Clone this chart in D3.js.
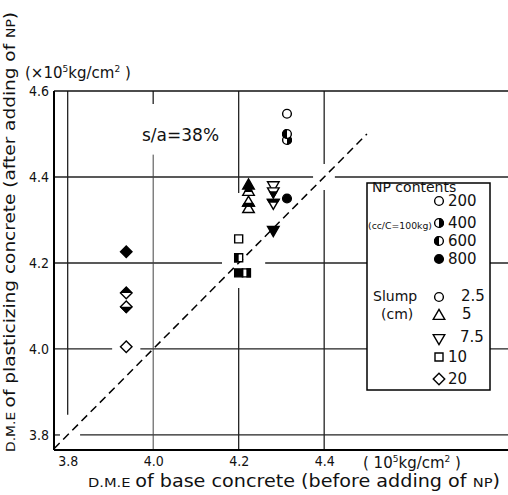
<!DOCTYPE html>
<html>
<head>
<meta charset="utf-8">
<script src="https://cdn.jsdelivr.net/npm/d3@7"></script>
<style>
  body { margin: 0; background: #fff; }
  svg text { font-family: "DejaVu Sans", sans-serif; fill: #111; }
  .tick text { font-family: "DejaVu Sans Condensed", "DejaVu Sans", sans-serif; font-size: 14px; }
</style>
</head>
<body>
<svg id="chart" width="508" height="495"></svg>
<script>
'use strict';

// ---- data ----
var npContents  = [200, 400, 600, 800];
var slumpLabels = ['2.5', '5', '7.5', '10', '20'];
var slumpShapes = ['circle', 'triangleUp', 'triangleDown', 'square', 'diamond'];

// D.M.E of base concrete (x) and of plasticizing concrete (y), one per NP content
var base25  = [4.313, 4.313, 4.313, 4.313], plast25  = [4.547, 4.486, 4.500, 4.350];
var base5   = [4.223, 4.223, 4.223, 4.223], plast5   = [4.325, 4.340, 4.365, 4.380];
var base75  = [4.281, 4.281, 4.281, 4.281], plast75  = [4.381, 4.367, 4.340, 4.277];
var base10  = [4.200, 4.218, 4.200, 4.200], plast10  = [4.256, 4.177, 4.212, 4.177];
var base20  = [3.937, 3.937, 3.937, 3.937], plast20  = [4.005, 4.098, 4.130, 4.226];

var xTicks = [3.8, 4.0, 4.2, 4.4];
var yTicks = [3.8, 4.0, 4.2, 4.4, 4.6];
var equalLine = [3.768, 4.5];   // dashed y = x line

var baseSets  = [base25, base5, base75, base10, base20];
var plastSets = [plast25, plast5, plast75, plast10, plast20];

var points = [];
slumpShapes.forEach(function(shape, s) {
    npContents.forEach(function(np, i) {
        points.push({ shape: shape, np: np, base: baseSets[s][i], plast: plastSets[s][i] });
    });
});

// ---- scales ----
var svg = d3.select('#chart');
var x = d3.scaleLinear().domain([3.768, 4.83]).range([54, 508]);
var y = d3.scaleLinear().domain([3.765, 4.6]).range([450, 91]);

// clip paths for half filled markers
var defs = svg.append('defs');
[['left', -20, -20, 20, 40], ['right', 0, -20, 20, 40],
 ['top', -20, -20, 40, 20], ['bottom', -20, 0, 40, 20]].forEach(function(c) {
    defs.append('clipPath').attr('id', 'half-' + c[0])
        .append('rect').attr('x', c[1]).attr('y', c[2]).attr('width', c[3]).attr('height', c[4]);
});

// ---- grid lines (hand drawn original has gaps) ----
var grid = svg.append('g').attr('stroke', '#222').attr('stroke-width', 1.3);
var hSegs = [
    [4.4, 3.768, 4.374], [4.4, 4.425, 4.83],
    [4.2, 3.768, 4.161], [4.2, 4.262, 4.83],
    [4.0, 3.768, 3.904], [4.0, 3.97, 4.83],
    [3.8, 3.829, 4.83], [3.8, 3.768, 3.782]
];
grid.selectAll('line.h').data(hSegs).enter().append('line')
    .attr('x1', function(d) { return x(d[1]); })
    .attr('x2', function(d) { return x(d[2]); })
    .attr('y1', function(d) { return y(d[0]); })
    .attr('y2', function(d) { return y(d[0]); });

var vSegs = [
    [3.8, 4.6, 3.847],
    [4.2, 4.6, 4.363], [4.2, 4.142, 3.765],
    [4.4, 4.6, 4.43], [4.4, 4.37, 3.765]
];
grid.selectAll('line.v').data(vSegs).enter().append('line')
    .attr('x1', function(d) { return x(d[0]); })
    .attr('x2', function(d) { return x(d[0]); })
    .attr('y1', function(d) { return y(d[1]); })
    .attr('y2', function(d) { return y(d[2]); });

// 4.0 line is fainter and starts lower
svg.append('line').attr('stroke', '#444').attr('stroke-width', 1)
    .attr('x1', x(4.0)).attr('x2', x(4.0)).attr('y1', y(4.452)).attr('y2', y(3.765));
svg.append('line').attr('stroke', '#222').attr('stroke-width', 1.3)
    .attr('x1', x(4.0)).attr('x2', x(4.0)).attr('y1', y(4.6)).attr('y2', y(4.57));

// frame
svg.append('line').attr('stroke', '#111').attr('stroke-width', 1.6)
    .attr('x1', x(3.768)).attr('x2', x(4.83)).attr('y1', y(4.6)).attr('y2', y(4.6));
svg.append('line').attr('stroke', '#000').attr('stroke-width', 2)
    .attr('x1', x(3.768)).attr('x2', x(3.768)).attr('y1', y(4.6)).attr('y2', y(3.765));
svg.append('line').attr('stroke', '#000').attr('stroke-width', 2)
    .attr('x1', x(3.768)).attr('x2', x(4.83)).attr('y1', y(3.765)).attr('y2', y(3.765));

// ---- axes ----
var yAxis = svg.append('g').attr('transform', 'translate(' + x(3.768) + ',0)')
    .call(d3.axisLeft(y).tickValues(yTicks).tickFormat(d3.format('.1f')).tickSize(0).tickPadding(5));
yAxis.select('.domain').remove();

var xAxis = svg.append('g').attr('transform', 'translate(0,' + y(3.765) + ')')
    .call(d3.axisBottom(x).tickValues(xTicks).tickFormat(d3.format('.1f')).tickSize(0).tickPadding(6));
xAxis.select('.domain').remove();

// ---- dashed equality line ----
svg.append('line')
    .attr('x1', x(equalLine[0])).attr('y1', y(equalLine[0]))
    .attr('x2', x(equalLine[1])).attr('y2', y(equalLine[1]))
    .attr('stroke', '#000').attr('stroke-width', 1.5).attr('stroke-dasharray', '8,5');

// ---- markers ----
function markerPath(shape) {
    var sym = d3.symbol();
    if (shape === 'circle') return sym.type(d3.symbolCircle).size(60)();
    if (shape === 'square') return sym.type(d3.symbolSquare).size(64)();
    if (shape === 'diamond') return sym.type(d3.symbolSquare).size(66)();
    return sym.type(d3.symbolTriangle).size(58)();
}
function markerRotate(shape) {
    if (shape === 'diamond') return 'rotate(45)';
    if (shape === 'triangleDown') return 'rotate(180)';
    return null;
}
function halfSide(shape, np) {
    var vertical = (shape === 'circle' || shape === 'square');
    if (np === 400) return vertical ? 'right' : 'bottom';
    if (np === 600) return vertical ? 'left' : 'top';
    return null;
}
function drawMarker(g, shape, np) {
    var d = markerPath(shape), rot = markerRotate(shape);
    g.append('path').attr('d', d).attr('transform', rot)
        .attr('fill', np === 800 ? '#000' : '#fff')
        .attr('stroke', '#000').attr('stroke-width', 1.4);
    var side = halfSide(shape, np);
    if (side) {
        g.append('g').attr('clip-path', 'url(#half-' + side + ')')
            .append('path').attr('d', d).attr('transform', rot)
            .attr('fill', '#000').attr('stroke', '#000').attr('stroke-width', 1.4);
    }
}

svg.append('g').selectAll('g').data(points).enter().append('g')
    .attr('transform', function(d) { return 'translate(' + x(d.base) + ',' + y(d.plast) + ')'; })
    .each(function(d) { drawMarker(d3.select(this), d.shape, d.np); });

// ---- annotation ----
svg.append('text').attr('x', 142).attr('y', 141).attr('font-size', 17).text('s/a=38%');

// ---- legend ----
var lg = svg.append('g');
lg.append('rect').attr('x', 367).attr('y', 183).attr('width', 123).attr('height', 207)
    .attr('fill', '#fff').attr('stroke', '#000').attr('stroke-width', 1.5);
lg.append('text').attr('x', 372).attr('y', 192).attr('font-size', 14).text('NP contents');
lg.append('text').attr('x', 368).attr('y', 229).attr('font-size', 9.5)
    .attr('textLength', 64).attr('lengthAdjust', 'spacingAndGlyphs').text('(cc/C=100kg)');

var npRowY = [201, 223, 241, 259];
npContents.forEach(function(np, i) {
    drawMarker(lg.append('g').attr('transform', 'translate(439,' + npRowY[i] + ')'), 'circle', np);
    lg.append('text').attr('x', 448).attr('y', npRowY[i] + 5).attr('font-size', 15).text(np);
});

lg.append('text').attr('x', 373).attr('y', 301).attr('font-size', 14).text('Slump');
lg.append('text').attr('x', 381).attr('y', 319).attr('font-size', 14).text('(cm)');
var slumpRowY = [297, 316, 338, 357, 379];
var slumpTextX = [461, 462, 460, 448, 448];
var slumpTextY = [301, 319, 342, 362, 384];
slumpShapes.forEach(function(shape, i) {
    drawMarker(lg.append('g').attr('transform', 'translate(439,' + slumpRowY[i] + ')'), shape, 200);
    lg.append('text').attr('x', slumpTextX[i]).attr('y', slumpTextY[i]).attr('font-size', 15).text(slumpLabels[i]);
});

// ---- axis titles ----
var xt = svg.append('text').attr('x', 88).attr('y', 487).attr('font-size', 17)
    .attr('textLength', 412).attr('lengthAdjust', 'spacingAndGlyphs');
xt.append('tspan').attr('font-size', 13).text('D.M.E ');
xt.append('tspan').text('of base concrete (before adding of ');
xt.append('tspan').attr('font-size', 13).text('NP');
xt.append('tspan').text(')');

var xu = svg.append('text').attr('x', 363).attr('y', 468).attr('font-size', 15);
xu.append('tspan').text('( 10');
xu.append('tspan').attr('font-size', 9).attr('dy', -6).text('5');
xu.append('tspan').attr('dy', 6).text('kg/cm');
xu.append('tspan').attr('font-size', 9).attr('dy', -6).text('2');
xu.append('tspan').attr('dy', 6).text(' )');

var yt = svg.append('text').attr('transform', 'translate(15,452) rotate(-90)').attr('font-size', 16)
    .attr('textLength', 440).attr('lengthAdjust', 'spacingAndGlyphs');
yt.append('tspan').attr('font-size', 12).text('D.M.E ');
yt.append('tspan').text('of plasticizing concrete (after adding of ');
yt.append('tspan').attr('font-size', 12).text('NP');
yt.append('tspan').text(')');

var yu = svg.append('text').attr('x', 25).attr('y', 78).attr('font-size', 15);
yu.append('tspan').text('(\u00d710');
yu.append('tspan').attr('font-size', 9).attr('dy', -6).text('5');
yu.append('tspan').attr('dy', 6).text('kg/cm');
yu.append('tspan').attr('font-size', 9).attr('dy', -6).text('2');
yu.append('tspan').attr('dy', 6).text(' )');
</script>
</body>
</html>
